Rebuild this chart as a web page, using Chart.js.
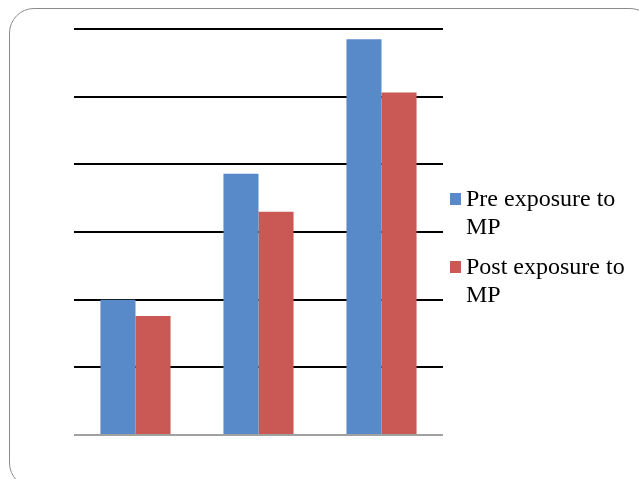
<!DOCTYPE html>
<html>
<head>
<meta charset="utf-8">
<script src="https://cdn.jsdelivr.net/npm/chart.js@4/dist/chart.umd.min.js"></script>
<style>
  html, body { margin: 0; padding: 0; background: #fff; overflow: hidden; }
  #wrap { position: relative; width: 639px; height: 479px; overflow: hidden; }
  #frame { position: absolute; left: 9px; top: 8px; width: 646px; height: 480px;
           border: 1.5px solid #8c8c8c; border-radius: 25px; box-sizing: border-box; }
  #c { position: absolute; left: 0; top: 0; }
  #legend { position: absolute; left: 450px; top: 0; width: 185px;
            font-family: "Times New Roman", Tinos, "Liberation Serif", "DejaVu Serif", serif;
            font-size: 24px; line-height: 28px; color: #000; }
  .item { position: absolute; left: 0; width: 185px; }
  .sw { position: absolute; left: 0; width: 11px; height: 12px; }
  .txt { position: absolute; left: 16px; width: 166px; }
</style>
</head>
<body>
<div id="wrap">
  <div id="frame"></div>
  <canvas id="c" width="639" height="479"></canvas>
  <div id="legend"></div>
</div>
<script>
const categories = ['1', '2', '3'];
const seriesNames = ['Pre exposure to MP', 'Post exposure to MP'];
const preValues = [2.0, 3.86, 5.85];
const postValues = [1.76, 3.30, 5.06];
const seriesColors = ['#5889C8', '#CA5955'];

const chart = new Chart(document.getElementById('c'), {
  type: 'bar',
  data: {
    labels: categories,
    datasets: [
      { label: seriesNames[0], data: preValues, backgroundColor: seriesColors[0] },
      { label: seriesNames[1], data: postValues, backgroundColor: seriesColors[1] }
    ]
  },
  options: {
    responsive: false,
    animation: false,
    devicePixelRatio: 1,
    layout: { padding: { left: 74, right: 196, top: 29, bottom: 44 } },
    datasets: { bar: { categoryPercentage: 0.57, barPercentage: 1.0 } },
    plugins: { legend: { display: false }, tooltip: { enabled: false } },
    scales: {
      x: { display: false },
      y: {
        display: true,
        min: 0, max: 6,
        ticks: { display: false, stepSize: 1 },
        border: { display: false },
        grid: {
          drawTicks: false,
          lineWidth: 2,
          color: (ctx) => (ctx.tick && ctx.tick.value === 0) ? '#a0a0a0' : '#000000'
        }
      }
    }
  }
});

// HTML legend built from dataset labels
const legend = document.getElementById('legend');
const tops = [184, 252];
chart.data.datasets.forEach((ds, i) => {
  const item = document.createElement('div');
  item.className = 'item';
  item.style.top = tops[i] + 'px';
  const sw = document.createElement('div');
  sw.className = 'sw';
  sw.style.background = ds.backgroundColor;
  sw.style.top = '9px';
  const t = document.createElement('div');
  t.className = 'txt';
  t.textContent = ds.label;
  item.appendChild(sw);
  item.appendChild(t);
  legend.appendChild(item);
});
</script>
</body>
</html>
